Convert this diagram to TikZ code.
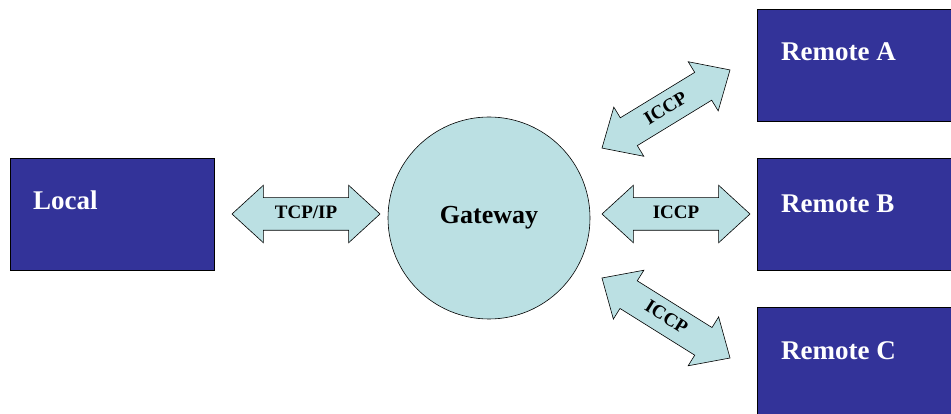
\documentclass[tikz,border=0pt]{standalone}
\usepackage{fontspec}
\setmainfont{Liberation Serif}
\usetikzlibrary{shapes.arrows}
\definecolor{siteblue}{RGB}{51,51,153}
\definecolor{linkcyan}{RGB}{187,224,227}

\begin{document}
\begin{tikzpicture}[x=1pt, y=-1pt,
    sitebox/.style={rectangle, draw=black, line width=0.8pt, fill=siteblue,
      minimum width=204pt, minimum height=112pt, inner sep=0pt},
    sitetext/.style={anchor=west, inner sep=0pt, text=white,
      font=\fontsize{27}{31}\selectfont\bfseries},
    linkarrow/.style={double arrow, draw=black, line width=0.6pt, fill=linkcyan,
      double arrow head extend=12.5pt, double arrow tip angle=85,
      text height=13pt, text depth=3pt, inner xsep=0pt, inner ysep=8pt,
      font=\fontsize{19}{22}\selectfont\bfseries}]
  \useasboundingbox (0,0) rectangle (951,414);
  \clip (0,0) rectangle (951,414);

  % sites
  \node[sitebox] (local) at (112,214) {};
  \node[sitebox] (remA) at (859,65.5) {};
  \node[sitebox] (remB) at (859,214) {};
  \node[sitebox] (remC) at (859,363) {};
  \node[sitetext] (localtxt) at (33,200) {Local};
  \node[sitetext] (remAtxt) at (781,52) {Remote A};
  \node[sitetext] (remBtxt) at (781,204) {Remote B};
  \node[sitetext] (remCtxt) at (781,351) {Remote C};

  % gateway
  \node[circle, draw=black, line width=0.6pt, fill=linkcyan, minimum size=202pt,
    font=\fontsize{26}{30}\selectfont\bfseries] (gateway) at (489,218) {Gateway};

  % links
  \node[linkarrow, minimum height=148pt] (tcp) at (306,214) {TCP/IP};
  \node[linkarrow, minimum height=150pt, rotate=31.4] (iccpA) at (666,109) {ICCP};
  \node[linkarrow, minimum height=148pt] (iccpB) at (676,214) {ICCP};
  \node[linkarrow, minimum height=151pt, rotate=-32] (iccpC) at (666,318) {ICCP};
\end{tikzpicture}
\end{document}
